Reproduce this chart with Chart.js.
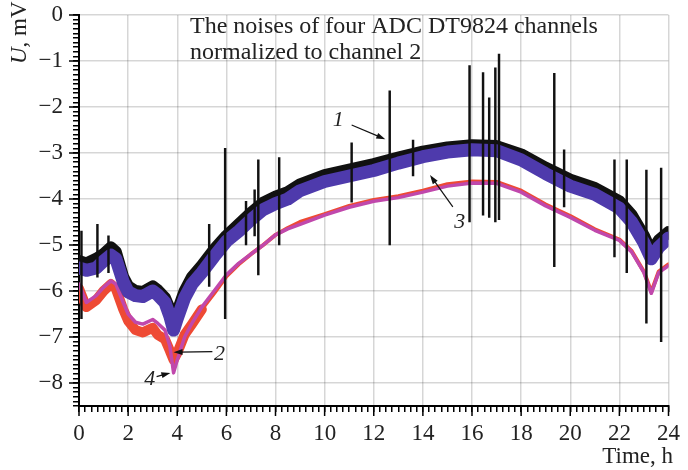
<!DOCTYPE html>
<html>
<head>
<meta charset="utf-8">
<script src="https://cdn.jsdelivr.net/npm/chart.js@4.4.1/dist/chart.umd.min.js"></script>
<style>
  html, body { margin: 0; padding: 0; background: #fff; }
  #wrap { width: 688px; height: 470px; }
</style>
</head>
<body>
<div id="wrap"><canvas id="noiseChart" width="688" height="470"></canvas></div>
<script>
// Time samples, h
const times = [0, 0.3, 0.7, 1.0, 1.3, 1.5, 1.8, 2.0, 2.3, 2.6, 3.0, 3.2, 3.5, 3.7, 3.85, 4.0, 4.3, 4.6, 5.0, 5.5,
  6.0, 6.5, 7.0, 7.5, 8.0, 8.5, 9.0, 10, 11, 12, 13, 14, 15, 16, 17, 18, 19, 20, 21, 22, 22.5, 23, 23.3, 23.6, 24]

// Channel 1 (black band centre), mV
const ch1 = [-5.35, -5.4, -5.3, -5.2, -5.05, -5.15, -5.7, -5.9, -6.0, -6.02, -5.9, -5.98, -6.15, -6.4, -6.65, -6.45, -6.0, -5.7, -5.45, -5.1,
  -4.8, -4.55, -4.3, -4.08, -3.95, -3.85, -3.68, -3.48, -3.36, -3.24, -3.1, -2.97, -2.88, -2.83, -2.85, -3.03, -3.32, -3.58, -3.76, -4.05, -4.35, -4.8, -5.15, -4.9, -4.72]

// Channel 2 (red), mV
const ch2 = [-5.95, -6.35, -6.2, -6.0, -5.85, -5.95, -6.4, -6.65, -6.85, -6.9, -6.8, -6.95, -7.05, -7.3, -7.5, -7.35, -6.95, -6.72, -6.4, -6.05,
  -5.68, -5.42, -5.2, -5.0, -4.78, -4.63, -4.5, -4.33, -4.15, -4.02, -3.94, -3.82, -3.68, -3.62, -3.63, -3.82, -4.12, -4.37, -4.66, -4.88, -5.13, -5.58, -6.02, -5.58, -5.42]

// Channel 3 (blue band centre), mV
const ch3 = [-5.5, -5.55, -5.5, -5.35, -5.22, -5.3, -5.8, -6.02, -6.1, -6.12, -6.0, -6.08, -6.25, -6.55, -6.85, -6.6, -6.15, -5.85, -5.6, -5.25,
  -4.92, -4.7, -4.45, -4.23, -4.1, -4.0, -3.82, -3.62, -3.5, -3.38, -3.22, -3.08, -2.98, -2.93, -2.95, -3.15, -3.45, -3.72, -3.9, -4.2, -4.5, -4.95, -5.3, -5.05, -4.85]

// Channel 4 (magenta), mV
const ch4 = [-5.85, -6.25, -6.1, -5.92, -5.78, -5.85, -6.25, -6.5, -6.68, -6.72, -6.62, -6.7, -6.85, -7.2, -7.78, -7.5, -7.0, -6.7, -6.35, -6.0,
  -5.65, -5.4, -5.2, -5.0, -4.78, -4.65, -4.55, -4.35, -4.18, -4.05, -3.97, -3.85, -3.72, -3.65, -3.66, -3.85, -4.15, -4.4, -4.68, -4.9, -5.15, -5.6, -6.05, -5.6, -5.45]

// Channel 1 spikes: time, top, bottom
const spikeTimes = [0.1, 0.75, 1.2, 5.3, 5.95, 6.8, 7.15, 7.3, 8.15, 11.1, 12.65, 13.6, 15.9, 16.45, 16.7, 16.95, 17.1, 19.35, 19.75, 21.8, 22.3, 23.1, 23.7]
const spikeTops = [-4.7, -4.55, -4.8, -4.55, -2.9, -4.05, -3.8, -3.15, -3.1, -2.78, -1.65, -2.72, -1.1, -1.25, -1.8, -1.15, -0.85, -1.27, -2.93, -3.15, -3.15, -3.37, -3.33]
const spikeBottoms = [-6.6, -5.7, -5.6, -5.9, -6.6, -5.0, -4.8, -5.65, -5.0, -4.07, -5.0, -3.5, -4.5, -4.35, -4.4, -4.5, -4.45, -5.47, -4.17, -5.26, -5.6, -6.7, -7.1]

// Tick labels
const xTickLabels = [0, 2, 4, 6, 8, 10, 12, 14, 16, 18, 20, 22, 24]
const yTickLabels = [0, -1, -2, -3, -4, -5, -6, -7, -8]

// Curve labels: text, time, value, arrow from (t, v) to (t, v)
const curveNotes = [
  { text: '1', t: 10.55, v: -2.28, from: [11.1, -2.39], to: [12.47, -2.7] },
  { text: '3', t: 15.5, v: -4.5, from: [15.22, -4.17], to: [14.29, -3.48] },
  { text: '2', t: 5.72, v: -7.38, from: [5.43, -7.32], to: [3.85, -7.33] },
  { text: '4', t: 2.88, v: -7.92, from: [3.16, -7.86], to: [3.72, -7.78] }
]

const serif = '"Liberation Serif", "DejaVu Serif", serif'
const toPoints = (ys) => times.map((t, i) => ({ x: t, y: ys[i] }))
const isInt = (v, step) => Math.abs(v / step - Math.round(v / step)) < 1e-6
const minus = (v) => (v < 0 ? '\u2212' + Math.abs(v) : String(v))

const decorPlugin = {
  id: 'decor',
  afterDraw(chart) {
    const { ctx, scales } = chart
    const xs = scales.x
    const ys = scales.y
    ctx.save()

    // longer major ticks
    ctx.strokeStyle = '#000'
    ctx.lineWidth = 1.5
    yTickLabels.forEach((v) => {
      const py = ys.getPixelForValue(v)
      ctx.beginPath()
      ctx.moveTo(ys.right - 10, py)
      ctx.lineTo(ys.right, py)
      ctx.stroke()
    })
    xTickLabels.forEach((v) => {
      const px = xs.getPixelForValue(v)
      ctx.beginPath()
      ctx.moveTo(px, xs.top)
      ctx.lineTo(px, xs.top + 10)
      ctx.stroke()
    })

    // title
    ctx.fillStyle = '#222'
    ctx.font = '24px ' + serif
    ctx.textAlign = 'left'
    ctx.textBaseline = 'alphabetic'
    ctx.fillText('The noises of four ADC DT9824 channels', 190, 33)
    ctx.fillText('normalized to channel 2', 190, 59)

    // x axis title
    ctx.font = '23px ' + serif
    ctx.textAlign = 'right'
    ctx.fillText('Time, h', 673, 463)

    // y axis title
    ctx.save()
    ctx.translate(26, 64)
    ctx.rotate(-Math.PI / 2)
    ctx.textAlign = 'left'
    ctx.font = 'italic 23px ' + serif
    ctx.fillText('U', 0, 0)
    const uw = ctx.measureText('U').width
    ctx.font = '23px ' + serif
    ctx.fillText(', mV', uw, 0)
    ctx.restore()

    // curve numbers with arrows
    curveNotes.forEach((n) => {
      ctx.font = 'italic 22px ' + serif
      ctx.textAlign = 'center'
      ctx.textBaseline = 'middle'
      ctx.fillStyle = '#222'
      ctx.fillText(n.text, xs.getPixelForValue(n.t), ys.getPixelForValue(n.v))
      const x0 = xs.getPixelForValue(n.from[0])
      const y0 = ys.getPixelForValue(n.from[1])
      const x1 = xs.getPixelForValue(n.to[0])
      const y1 = ys.getPixelForValue(n.to[1])
      const a = Math.atan2(y1 - y0, x1 - x0)
      ctx.strokeStyle = '#111'
      ctx.lineWidth = 1.2
      ctx.beginPath()
      ctx.moveTo(x0, y0)
      ctx.lineTo(x1 - 6 * Math.cos(a), y1 - 6 * Math.sin(a))
      ctx.stroke()
      ctx.beginPath()
      ctx.moveTo(x1, y1)
      ctx.lineTo(x1 - 9 * Math.cos(a) + 3 * Math.sin(a), y1 - 9 * Math.sin(a) - 3 * Math.cos(a))
      ctx.lineTo(x1 - 9 * Math.cos(a) - 3 * Math.sin(a), y1 - 9 * Math.sin(a) + 3 * Math.cos(a))
      ctx.closePath()
      ctx.fillStyle = '#111'
      ctx.fill()
    })
    ctx.restore()
  }
}

const ctx = document.getElementById('noiseChart').getContext('2d')
new Chart(ctx, {
  type: 'line',
  data: {
    datasets: [
      {
        type: 'bar',
        label: 'Channel 1 spikes',
        data: spikeTimes.map((t, i) => ({ x: t, y: [spikeBottoms[i], spikeTops[i]] })),
        backgroundColor: '#111',
        barThickness: 1.8,
        grouped: false,
        order: 0
      },
      {
        label: 'Channel 3',
        data: toPoints(ch3),
        borderColor: 'rgb(78, 58, 172)',
        borderWidth: 13,
        order: 1
      },
      {
        label: 'Channel 1',
        data: toPoints(ch1),
        borderColor: '#111',
        borderWidth: 12,
        order: 2
      },
      {
        label: 'Channel 4',
        data: toPoints(ch4),
        borderColor: 'rgb(192, 72, 172)',
        borderWidth: 3.5,
        order: 3
      },
      {
        label: 'Channel 2',
        data: toPoints(ch2),
        borderColor: 'rgb(238, 74, 52)',
        segment: {
          borderWidth: (c) => (c.p0.parsed.x < 5 ? 10 : 4)
        },
        borderWidth: 4,
        order: 4
      }
    ]
  },
  options: {
    responsive: false,
    animation: false,
    layout: { padding: { left: 0, right: 16, top: 15, bottom: 0 } },
    elements: {
      point: { radius: 0 },
      line: { tension: 0, borderJoinStyle: 'round', borderCapStyle: 'round' }
    },
    plugins: {
      legend: { display: false },
      tooltip: { enabled: false }
    },
    scales: {
      x: {
        type: 'linear',
        min: 0,
        max: 24,
        offset: false,
        afterFit: (s) => { s.height = 64 },
        border: { color: '#000', width: 2 },
        grid: {
          offset: false,
          color: (c) => (c.tick && isInt(c.tick.value, 2) ? 'rgba(0,0,0,0.16)' : 'rgba(0,0,0,0)'),
          lineWidth: 1.5,
          tickColor: '#000',
          tickLength: 6,
          tickWidth: 1.5
        },
        ticks: {
          stepSize: 0.25,
          autoSkip: false,
          maxRotation: 0,
          padding: 8,
          color: '#222',
          font: { family: serif, size: 23 },
          callback: (v) => (isInt(v, 2) ? String(Math.round(v)) : '')
        }
      },
      y: {
        min: -8.5,
        max: 0,
        afterFit: (s) => {
          s.width = 79
          s.paddingTop = 0
          s.paddingBottom = 0
        },
        border: { color: '#000', width: 2 },
        grid: {
          color: (c) => (c.tick && isInt(c.tick.value, 1) ? 'rgba(0,0,0,0.16)' : 'rgba(0,0,0,0)'),
          lineWidth: 1.5,
          tickColor: '#000',
          tickLength: 6,
          tickWidth: 1.5
        },
        ticks: {
          stepSize: 0.1,
          autoSkip: false,
          padding: 10,
          color: '#222',
          font: { family: serif, size: 23 },
          callback: (v) => (isInt(v, 1) ? minus(Math.round(v)) : '')
        }
      }
    }
  },
  plugins: [decorPlugin]
})
</script>
</body>
</html>
